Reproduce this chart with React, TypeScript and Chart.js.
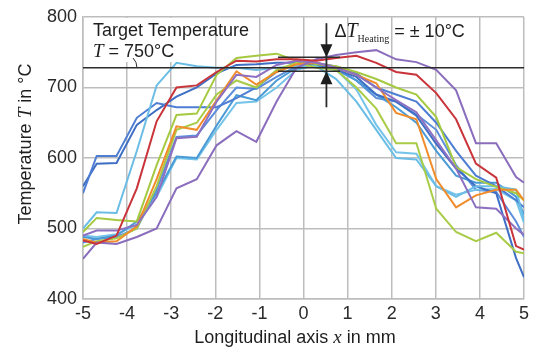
import React, { useEffect, useRef } from 'react';
import { Chart, registerables } from 'chart.js';

Chart.register(...registerables);

// Longitudinal measurement positions (mm)
const xPositions = [-5, -4.69, -4.24, -3.78, -3.33, -2.88, -2.42, -1.97, -1.52, -1.07, -0.61, -0.16, 0.29, 0.74, 1.2, 1.65, 2.1, 2.56, 3.01, 3.46, 3.91, 4.37, 4.82, 5];

// Temperature profiles (°C)
const redProfile = [483, 478, 490, 557, 652, 700, 703, 722, 738, 737, 740, 740, 738, 742, 745, 735, 722, 718, 692, 655, 592, 572, 475, 470];
const purpleProfile1 = [457, 480, 478, 488, 500, 557, 570, 618, 638, 623, 680, 728, 740, 746, 750, 753, 740, 736, 725, 696, 621, 621, 573, 565];
const purpleProfile2 = [490, 497, 497, 505, 545, 628, 630, 680, 718, 715, 732, 738, 735, 728, 718, 700, 682, 665, 625, 585, 530, 528, 500, 491];
const orangeProfile = [485, 480, 482, 503, 570, 645, 640, 682, 723, 704, 722, 733, 735, 728, 718, 706, 664, 655, 570, 530, 547, 555, 555, 540];
const greenProfile1 = [495, 515, 512, 510, 590, 661, 663, 718, 742, 745, 748, 738, 733, 730, 722, 712, 700, 690, 658, 587, 570, 559, 550, 540];
const greenProfile2 = [474, 482, 486, 500, 560, 640, 650, 690, 710, 700, 725, 735, 728, 725, 700, 670, 621, 621, 528, 495, 482, 494, 467, 465];
const skyProfile1 = [500, 523, 522, 610, 703, 735, 730, 728, 728, 725, 728, 730, 730, 712, 680, 640, 600, 598, 560, 545, 560, 560, 555, 512];
const blueProfile1 = [550, 603, 603, 657, 678, 672, 672, 672, 685, 700, 722, 735, 735, 730, 720, 700, 690, 680, 650, 610, 575, 560, 540, 530];
const blueProfile2 = [560, 592, 593, 647, 668, 687, 700, 720, 732, 733, 735, 735, 733, 725, 715, 690, 680, 660, 620, 585, 560, 550, 458, 431];
const tealProfile = [488, 485, 490, 510, 550, 602, 600, 646, 689, 682, 710, 728, 730, 725, 710, 690, 672, 650, 610, 575, 565, 565, 545, 520];
const skyProfile2 = [490, 488, 492, 505, 545, 600, 598, 640, 678, 680, 700, 725, 732, 725, 697, 647, 608, 606, 560, 548, 555, 556, 540, 508];
const blueProfile3 = [480, 485, 488, 500, 555, 630, 632, 668, 700, 698, 715, 730, 733, 728, 710, 685, 680, 662, 640, 590, 555, 552, 510, 488];

const xTickValues = [-5, -4, -3, -2, -1, 0, 1, 2, 3, 4, 5];
const yTickValues = [400, 500, 600, 700, 800];

// annotation values
const targetLineT = 728;
const bandUpperT = 743;
const bandLowerT = 723;
const bandFromX = -0.58;
const bandToX = 0.83;
const arrowX = 0.52;

const profiles: { values: number[]; color: string }[] = [
  { values: redProfile, color: '#c9343a' },
  { values: purpleProfile1, color: '#8b6dbd' },
  { values: purpleProfile2, color: '#8d70c2' },
  { values: orangeProfile, color: '#f08c2a' },
  { values: greenProfile1, color: '#a5c940' },
  { values: greenProfile2, color: '#a9cc48' },
  { values: skyProfile1, color: '#6bbde6' },
  { values: blueProfile1, color: '#4d7ed3' },
  { values: blueProfile2, color: '#3e6fc4' },
  { values: tealProfile, color: '#4a9ad6' },
  { values: skyProfile2, color: '#74c4ea' },
  { values: blueProfile3, color: '#5b8edb' },
];

const SANS = '"Liberation Sans", Arial, sans-serif';
const SERIF = '"Liberation Serif", "Times New Roman", serif';

function drawPieces(ctx: CanvasRenderingContext2D, pieces: { t: string; f: string; dy?: number }[], x: number, y: number) {
  let cx = x;
  for (const p of pieces) {
    ctx.font = p.f;
    ctx.fillText(p.t, cx, y + (p.dy || 0));
    cx += ctx.measureText(p.t).width;
  }
  return cx;
}

function piecesWidth(ctx: CanvasRenderingContext2D, pieces: { t: string; f: string }[]) {
  let w = 0;
  for (const p of pieces) {
    ctx.font = p.f;
    w += ctx.measureText(p.t).width;
  }
  return w;
}

const annotationPlugin = {
  id: 'annotations',
  beforeDatasetsDraw(chart: any) {
    const { ctx, chartArea } = chart;
    ctx.save();
    ctx.fillStyle = '#ffffff';
    ctx.fillRect(chartArea.left + 1, chartArea.top + 1, 106, 44);
    ctx.restore();
  },
  afterDatasetsDraw(chart: any) {
    const { ctx, chartArea, scales } = chart;
    const xs = scales.x;
    const ys = scales.y;
    ctx.save();
    ctx.strokeStyle = '#2b2b2b';
    ctx.fillStyle = '#1e1e1e';
    ctx.lineWidth = 1.6;

    // target line
    const yT = ys.getPixelForValue(targetLineT);
    ctx.beginPath();
    ctx.moveTo(chartArea.left, yT);
    ctx.lineTo(chartArea.right, yT);
    ctx.stroke();

    // tolerance band bars
    const bx0 = xs.getPixelForValue(bandFromX);
    const bx1 = xs.getPixelForValue(bandToX);
    const yU = ys.getPixelForValue(bandUpperT);
    const yL = ys.getPixelForValue(bandLowerT);
    ctx.beginPath();
    ctx.moveTo(bx0, yU);
    ctx.lineTo(bx1, yU);
    ctx.moveTo(bx0, yL);
    ctx.lineTo(bx1, yL);
    ctx.stroke();

    // arrows
    const ax = xs.getPixelForValue(arrowX);
    ctx.lineWidth = 1.8;
    ctx.beginPath();
    ctx.moveTo(ax, yU - 34);
    ctx.lineTo(ax, yL + 36);
    ctx.stroke();
    ctx.beginPath();
    ctx.moveTo(ax, yU);
    ctx.lineTo(ax - 6, yU - 13);
    ctx.lineTo(ax + 6, yU - 13);
    ctx.closePath();
    ctx.fill();
    ctx.beginPath();
    ctx.moveTo(ax, yL);
    ctx.lineTo(ax - 6, yL + 13);
    ctx.lineTo(ax + 6, yL + 13);
    ctx.closePath();
    ctx.fill();

    // texts
    ctx.textBaseline = 'alphabetic';
    ctx.textAlign = 'left';
    ctx.fillStyle = '#1e1e1e';
    ctx.font = `18px ${SANS}`;
    ctx.fillText('Target Temperature', chartArea.left + 10, 36);
    drawPieces(ctx, [
      { t: 'T', f: `italic 19px ${SERIF}` },
      { t: ' = 750°C', f: `18px ${SANS}` },
    ], chartArea.left + 10, 57);
    // small pointer
    ctx.lineWidth = 1;
    ctx.beginPath();
    ctx.moveTo(133, 58);
    ctx.quadraticCurveTo(137, 62, 137, yT);
    ctx.stroke();

    drawPieces(ctx, [
      { t: 'Δ', f: `18px ${SANS}` },
      { t: 'T', f: `italic 20px ${SERIF}` },
      { t: 'Heating', f: `10px ${SERIF}`, dy: 5 },
      { t: ' = ± 10°C', f: `18px ${SANS}` },
    ], ax + 8, 37);
    ctx.restore();
  },
  afterDraw(chart: any) {
    const { ctx } = chart;
    ctx.save();
    ctx.fillStyle = '#1e1e1e';
    ctx.textBaseline = 'alphabetic';
    // x axis title
    const xp = [
      { t: 'Longitudinal axis ', f: `18px ${SANS}` },
      { t: 'x', f: `italic 19px ${SERIF}` },
      { t: ' in mm', f: `18px ${SANS}` },
    ];
    const xw = piecesWidth(ctx, xp);
    drawPieces(ctx, xp, 295 - xw / 2, 343);
    // y axis title
    const yp = [
      { t: 'Temperature ', f: `18px ${SANS}` },
      { t: 'T', f: `italic 19px ${SERIF}` },
      { t: ' in °C', f: `18px ${SANS}` },
    ];
    const yw = piecesWidth(ctx, yp);
    ctx.translate(31, 144);
    ctx.rotate(-Math.PI / 2);
    drawPieces(ctx, yp, -yw / 2, 0);
    ctx.restore();
  },
};

export default function App() {
  const ref = useRef<HTMLCanvasElement | null>(null);
  useEffect(() => {
    if (!ref.current) return;
    const chart = new Chart(ref.current, {
      type: 'line',
      data: {
        datasets: profiles.map((p, i) => ({
          label: `Profile ${i + 1}`,
          data: xPositions.map((x, j) => ({ x, y: p.values[j] })),
          borderColor: p.color,
          backgroundColor: p.color,
          borderWidth: 2,
          pointRadius: 0,
          tension: 0,
          fill: false,
        })),
      },
      options: {
        animation: false,
        responsive: false,
        devicePixelRatio: 1,
        layout: { padding: { left: 0, right: 5, top: 17, bottom: 0 } },
        plugins: {
          legend: { display: false },
          tooltip: { enabled: false },
        },
        scales: {
          x: {
            type: 'linear',
            min: -5,
            max: 5,
            afterBuildTicks: (s: any) => {
              s.ticks = xTickValues.map((v) => ({ value: v }));
            },
            afterFit: (s: any) => {
              s.height = 48;
            },
            ticks: {
              font: { family: SANS, size: 18 },
              color: '#2a2a2a',
              padding: 4,
              maxRotation: 0,
              callback: (v: any) => String(v),
            },
            grid: { color: '#bdbdbd', lineWidth: 1.5, drawTicks: false },
            border: { color: '#bdbdbd', width: 1.5 },
          },
          y: {
            type: 'linear',
            min: 400,
            max: 800,
            afterBuildTicks: (s: any) => {
              s.ticks = yTickValues.map((v) => ({ value: v }));
            },
            afterFit: (s: any) => {
              s.width = 83;
            },
            ticks: {
              font: { family: SANS, size: 18 },
              color: '#2a2a2a',
              padding: 6,
              callback: (v: any) => String(v),
            },
            grid: { color: '#bdbdbd', lineWidth: 1.5, drawTicks: false },
            border: { color: '#bdbdbd', width: 1.5 },
          },
        },
      },
      plugins: [annotationPlugin],
    });
    return () => chart.destroy();
  }, []);
  return (
    <div style={{ position: 'absolute', left: 0, top: 0, width: 533, height: 347, background: '#fff' }}>
      <canvas ref={ref} width={533} height={347} style={{ display: 'block' }} />
    </div>
  );
}
